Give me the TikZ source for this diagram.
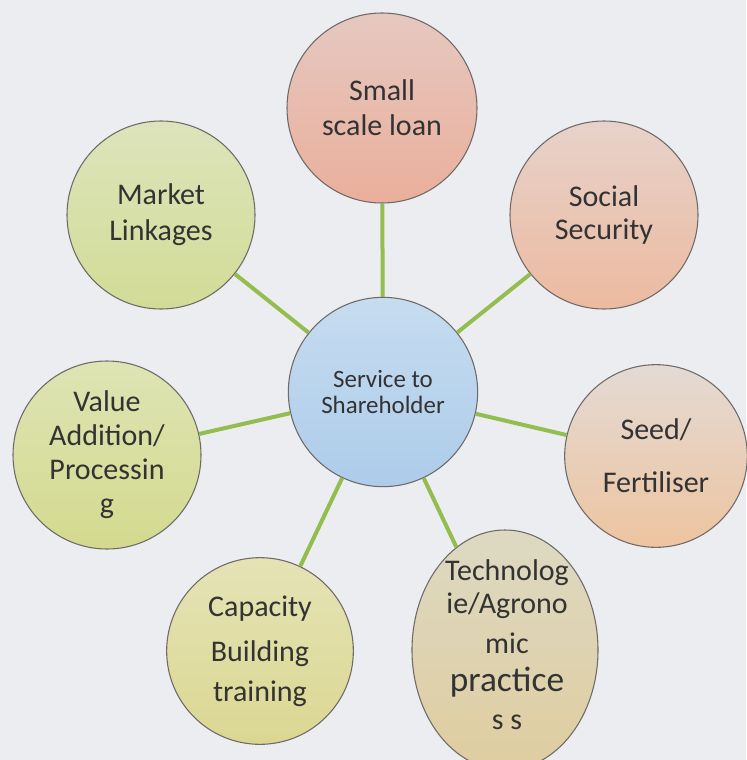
\documentclass[tikz,border=0pt]{standalone}
\usepackage{fontspec}
\setmainfont{Carlito}
\usetikzlibrary{shapes.geometric}
\definecolor{bg}{HTML}{ECEDF1}
\definecolor{edge}{HTML}{6E6A68}
\definecolor{linkgreen}{HTML}{93BD4F}
\definecolor{loanT}{HTML}{E6C8C0}\definecolor{loanB}{HTML}{EAAF9B}
\definecolor{socT}{HTML}{E7D2CA}\definecolor{socB}{HTML}{ECBAA0}
\definecolor{seedT}{HTML}{E3DAD4}\definecolor{seedB}{HTML}{EEC4A0}
\definecolor{techT}{HTML}{DDD9C2}\definecolor{techB}{HTML}{DFCDA0}
\definecolor{capT}{HTML}{E5E3B6}\definecolor{capB}{HTML}{DBD792}
\definecolor{valT}{HTML}{DEE4B4}\definecolor{valB}{HTML}{D3DA8E}
\definecolor{mktT}{HTML}{DDE4BC}\definecolor{mktB}{HTML}{D2DC96}
\definecolor{hubT}{HTML}{C6DCF0}\definecolor{hubB}{HTML}{ADCCEA}
\begin{document}
\begin{tikzpicture}[x=0.75pt,y=-0.75pt,
  bubble/.style={circle,draw=edge,line width=0.8pt,inner sep=0pt,align=center,text=black!80},
  link/.style={draw=linkgreen,line width=3pt},
  big/.style={font=\fontsize{22.5}{#1}\selectfont}]
\fill[bg] (0,0) rectangle (746,760);
\useasboundingbox (0,0) rectangle (746,760);
\node[bubble,minimum size=142.5pt,top color=loanT,bottom color=loanB,big=26pt] (loan) at (382,108) {Small\\scale loan};
\node[bubble,minimum size=141pt,top color=socT,bottom color=socB,big=25pt] (soc) at (604,215) {Social\\Security};
\node[bubble,minimum size=137pt,top color=seedT,bottom color=seedB,big=40pt] (seed) at (656,456) {Seed/\\Fertiliser};
\node[ellipse,draw=edge,line width=0.8pt,inner sep=0pt,minimum width=139.5pt,minimum height=180pt,top color=techT,bottom color=techB] (tech) at (505,650) {};
\node[bubble,minimum size=140pt,top color=capT,bottom color=capB,big=30pt,yshift=-3pt] (cap) at (260,647) {Capacity\\[4pt]Building\\training};
\node[bubble,minimum size=141pt,top color=valT,bottom color=valB,big=25.5pt] (val) at (107,455) {Value\\Addition/\\Processin\\g};
\node[bubble,minimum size=141pt,top color=mktT,bottom color=mktB,big=27pt] (mkt) at (161,215) {Market\\Linkages};
\node[bubble,minimum size=142pt,top color=hubT,bottom color=hubB,font=\fontsize{18.7}{19.5}\selectfont] (hub) at (383,392) {Service to\\Shareholder};
\node[align=center,text=black!80,inner sep=0pt,font=\fontsize{22.5}{25}\selectfont] (techtxt) at (507,645)
  {Technolog\\ie/Agrono\\[5pt]mic\\[3pt]{\fontsize{26.5}{29}\selectfont practice}\\[4pt]s s};
\foreach \t in {loan,soc,seed,tech,cap,val,mkt}
  \draw[link] (hub) -- (\t);
\end{tikzpicture}
\end{document}
